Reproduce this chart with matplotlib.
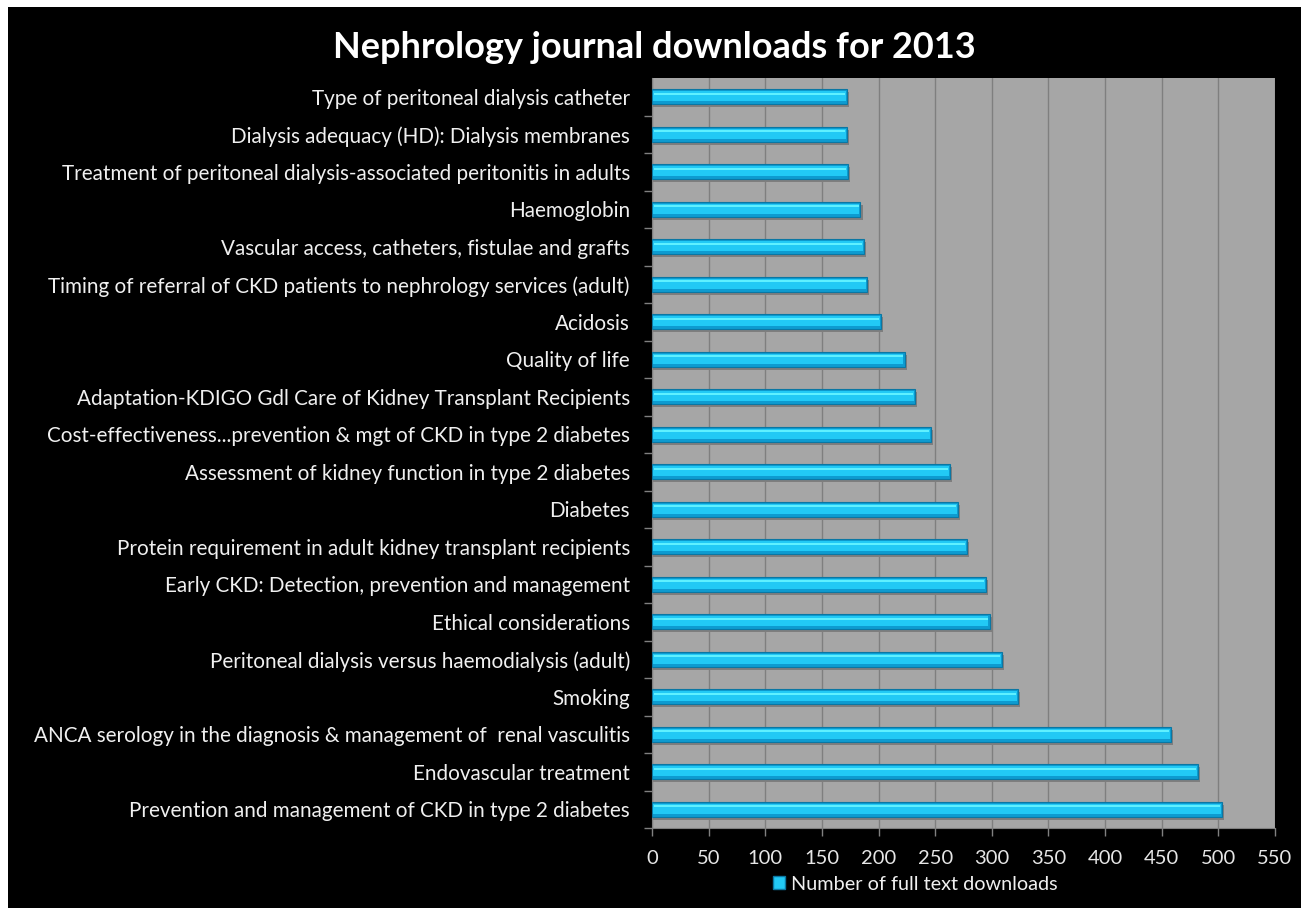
import matplotlib
matplotlib.use("Agg")
import matplotlib.pyplot as plt
from matplotlib.patches import Rectangle, Patch

plt.rcParams['font.family'] = ['Lato', 'DejaVu Sans']

title = "Nephrology journal downloads for 2013"
series_name = "Number of full text downloads"
categories = [
    "Prevention and management of CKD in type 2 diabetes",
    "Endovascular treatment",
    "ANCA serology in the diagnosis & management of  renal vasculitis",
    "Smoking",
    "Peritoneal dialysis versus haemodialysis (adult)",
    "Ethical considerations",
    "Early CKD: Detection, prevention and management",
    "Protein requirement in adult kidney transplant recipients",
    "Diabetes",
    "Assessment of kidney function in type 2 diabetes",
    "Cost-effectiveness...prevention & mgt of CKD in type 2 diabetes",
    "Adaptation-KDIGO Gdl Care of Kidney Transplant Recipients",
    "Quality of life",
    "Acidosis",
    "Timing of referral of CKD patients to nephrology services (adult)",
    "Vascular access, catheters, fistulae and grafts",
    "Haemoglobin",
    "Treatment of peritoneal dialysis-associated peritonitis in adults",
    "Dialysis adequacy (HD): Dialysis membranes",
    "Type of peritoneal dialysis catheter",
]
downloads = [503, 482, 458, 323, 309, 298, 295, 278, 270, 263,
             246, 232, 223, 202, 190, 187, 184, 173, 172, 172]
xticks = list(range(0, 551, 50))

W, H = 1301, 908
fig = plt.figure(figsize=(W / 100, H / 100), dpi=100, facecolor='black')
# white margins at left and top
fig.patches.append(Rectangle((0, 0), 8 / W, 1, transform=fig.transFigure,
                             facecolor='white', edgecolor='none', zorder=0))
fig.patches.append(Rectangle((0, 1 - 7 / H), 1, 7 / H, transform=fig.transFigure,
                             facecolor='white', edgecolor='none', zorder=0))

ax = fig.add_axes([652 / W, 1 - 828 / H, 623 / W, 750 / H])
ax.set_facecolor('#a6a6a6')

y = list(range(len(categories)))
bh = 0.39
# shadow
ax.barh([v - 0.08 for v in y], [d + 1.5 for d in downloads], height=bh, left=0.5,
        color='#7e7e7e', edgecolor='none', zorder=2)
# base bar
ax.barh(y, downloads, height=bh, color='#0e9bd0', edgecolor='#0b77a3',
        linewidth=0.8, zorder=3)
# main bright body
ax.barh([v + bh * 0.04 for v in y], [d - 2 for d in downloads], left=1,
        height=bh * 0.7, color='#22c9f5', edgecolor='none', zorder=4)
# highlight stripe
ax.barh([v + bh * 0.2 for v in y], [d - 3 for d in downloads], left=1.5,
        height=bh * 0.14, color='#5ff0ff', edgecolor='none', zorder=5)

ax.set_xlim(0, 550)
ax.set_ylim(-0.5, len(categories) - 0.5)
ax.set_xticks(xticks)
ax.set_xticklabels([str(t) for t in xticks], fontsize=14.5, color='#e6e6e6')
ax.set_yticks(y)
ax.set_yticklabels(categories, fontsize=14.9, color='#f0f0f0')
ax.set_yticks([v + 0.5 for v in y[:-1]] + [-0.5], minor=True)
ax.tick_params(axis='y', which='major', length=0, pad=16)
ax.tick_params(axis='y', which='minor', length=6, color='#808080', width=1)
ax.tick_params(axis='x', length=6, color='#808080', width=1, pad=10)
ax.grid(axis='x', color='#7f7f7f', linewidth=1, zorder=1)
ax.set_axisbelow(True)
for s in ['top', 'right']:
    ax.spines[s].set_visible(False)
ax.spines['left'].set_color('#808080')
ax.spines['bottom'].set_color('#808080')

fig.text(654 / W, 1 - 47 / H, title, ha='center', va='center', fontsize=26,
         fontweight='bold', color='white')

leg = fig.legend(handles=[Patch(facecolor='#22c9f5', edgecolor='#0b77a3', label=series_name)],
                 loc='center', bbox_to_anchor=(915 / W, 1 - 884 / H), frameon=False,
                 fontsize=14.3, handlelength=0.6, handleheight=0.6, handletextpad=0.3)
for t in leg.get_texts():
    t.set_color('#f0f0f0')

fig.savefig('out.png', dpi=100, facecolor='black')
